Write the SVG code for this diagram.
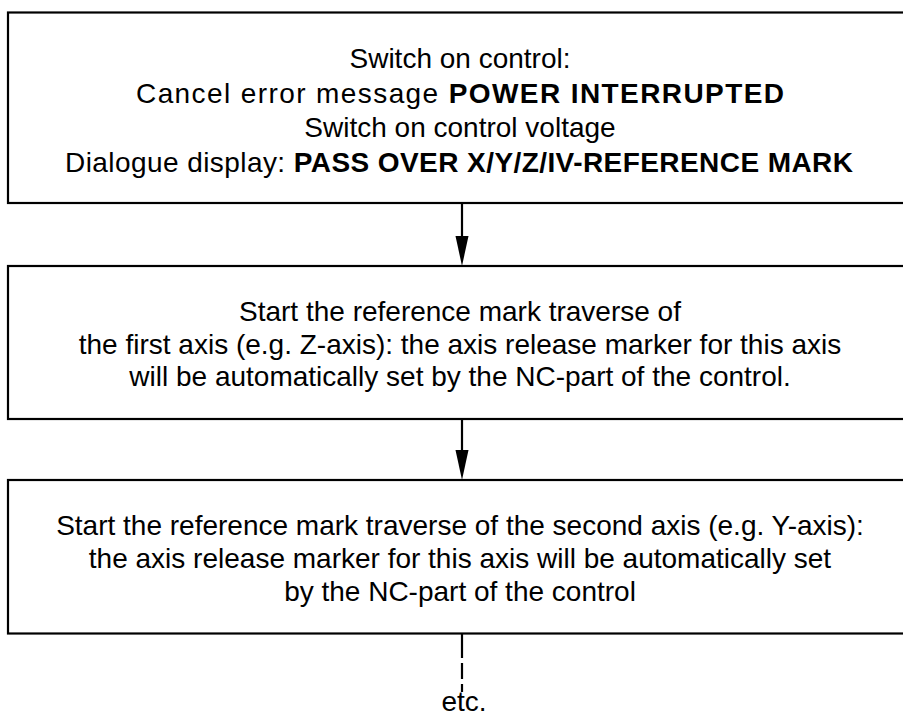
<svg xmlns="http://www.w3.org/2000/svg" width="903" height="718" viewBox="0 0 903 718">
<style>
.box{fill:#fff;stroke:#000;stroke-width:2.2}
.t{font-family:"Liberation Sans",Arial,sans-serif;font-size:28px;fill:#000;text-anchor:middle}
.b{font-weight:bold}
.conn{stroke:#000;stroke-width:2.2;fill:none}
.head{fill:#000}
</style>
<rect width="903" height="718" fill="#fff"/>
<g id="connectors">
<line class="conn" x1="462" y1="203" x2="462" y2="240"/>
<path class="head" d="M455.5,236 L468.5,236 L462,266 Z"/>
<line class="conn" x1="462" y1="419" x2="462" y2="454"/>
<path class="head" d="M455.5,450 L468.5,450 L462,480 Z"/>
<line class="conn" x1="462" y1="634" x2="462" y2="692" stroke-dasharray="24 5 16 5"/>
</g>
<g id="node1">
<rect class="box" x="8" y="12.5" width="905" height="190.5"/>
<text class="t" x="460" y="68">Switch on control:</text>
<text class="t" x="460" y="103" textLength="648" lengthAdjust="spacing">Cancel error message <tspan class="b">POWER INTERRUPTED</tspan></text>
<text class="t" x="460" y="137">Switch on control voltage</text>
<text class="t" x="459" y="172" textLength="788" lengthAdjust="spacing">Dialogue display: <tspan class="b">PASS OVER X/Y/Z/IV-REFERENCE MARK</tspan></text>
</g>
<g id="node2">
<rect class="box" x="8" y="266" width="905" height="153"/>
<text class="t" x="460" y="321">Start the reference mark traverse of</text>
<text class="t" x="460" y="353.5">the first axis (e.g. Z-axis): the axis release marker for this axis</text>
<text class="t" x="460" y="386">will be automatically set by the NC-part of the control.</text>
</g>
<g id="node3">
<rect class="box" x="8" y="480" width="905" height="153.5"/>
<text class="t" x="460" y="535">Start the reference mark traverse of the second axis (e.g. Y-axis):</text>
<text class="t" x="460" y="568">the axis release marker for this axis will be automatically set</text>
<text class="t" x="460" y="601">by the NC-part of the control</text>
</g>
<g id="etc">
<text class="t" x="464" y="711">etc.</text>
</g>
</svg>
